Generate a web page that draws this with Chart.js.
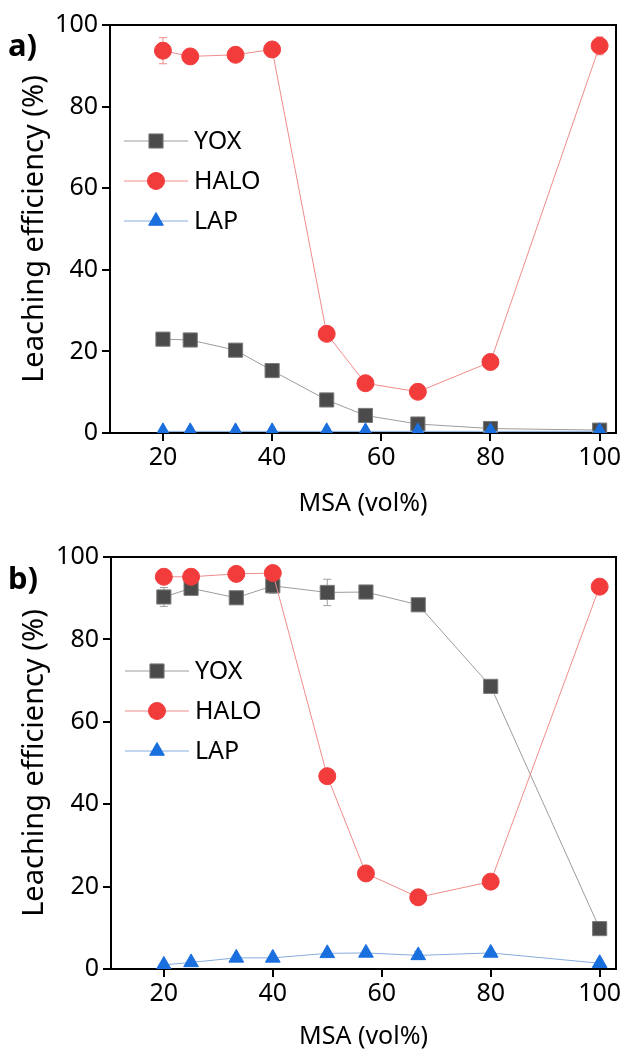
<!DOCTYPE html>
<html><head><meta charset="utf-8">
<script src="https://cdn.jsdelivr.net/npm/chart.js@4.4.1/dist/chart.umd.min.js"></script>
<style>
html,body{margin:0;padding:0;background:#fff;}
canvas{display:block;}
</style></head><body>
<canvas id="ca" width="627" height="527"></canvas>
<canvas id="cb" width="627" height="527"></canvas>
<script>
// ---- data ----
const msa = [20, 25, 33.3, 40, 50, 57.1, 66.7, 80, 100];
const xTicks = [20, 40, 60, 80, 100];
const yTicks = [0, 20, 40, 60, 80, 100];
const seriesNames = ['YOX', 'HALO', 'LAP'];
const panelLabels = ['a)', 'b)'];
const xTitle = 'MSA (vol%)';
const yTitle = 'Leaching efficiency (%)';

const yoxA  = [23.0, 22.8, 20.3, 15.3, 8.1, 4.3, 2.2, 1.1, 0.7];
const haloA = [93.7, 92.3, 92.7, 94.0, 24.3, 12.2, 10.1, 17.4, 94.9];
const lapA  = [0.4, 0.4, 0.4, 0.4, 0.4, 0.4, 0.4, 0.4, 0.4];
const yoxErrA  = [0, 0, 0, 0, 0, 0, 0, 0, 0];
const haloErrA = [3.2, 0, 0, 0, 0, 0, 0, 0, 2.2];
const lapErrA  = [0, 0, 0, 0, 0, 0, 0, 0, 0];

const yoxB  = [90.3, 92.4, 90.1, 93.0, 91.4, 91.5, 88.4, 68.6, 9.8];
const haloB = [95.2, 95.2, 95.9, 96.1, 46.8, 23.2, 17.4, 21.2, 92.8];
const lapB  = [1.0, 1.6, 2.7, 2.7, 3.8, 3.9, 3.3, 3.9, 1.4];
const yoxErrB  = [2.3, 0, 0, 1.8, 3.2, 0, 0, 0, 0];
const haloErrB = [0, 0, 1.5, 0, 0, 0, 0, 0, 0];
const lapErrB  = [0, 0, 0, 0, 0, 0, 1.0, 0, 0];

// ---- styling ----
const FONT = "'Noto Sans', 'Open Sans', sans-serif";
const styles = [
  {line: '#9c9c9c', fill: '#4b4b4b', border: '#7a7a7a', pointStyle: 'rect', radius: 10, err: '#a0a0a0'},
  {line: '#f08c8c', fill: '#f23c3c', border: '#f23c3c', pointStyle: 'circle', radius: 8.5, err: '#f08c8c'},
  {line: '#86acde', fill: '#1a6fde', border: '#1a6fde', pointStyle: 'triangle', radius: 8.5, err: '#86acde'}
];

const boxPlugin = {
  id: 'box',
  beforeDatasetsDraw(chart, args, opts) {
    const {ctx, chartArea: a, scales} = chart;
    ctx.save();
    ctx.strokeStyle = '#000';
    ctx.lineWidth = 2;
    ctx.beginPath();
    ctx.moveTo(a.left, a.top); ctx.lineTo(a.right, a.top); ctx.lineTo(a.right, a.bottom);
    ctx.stroke();
    const xs = scales.x, ys = scales.y;
    chart.data.datasets.forEach((ds, di) => {
      const errs = ds.errs || [];
      ctx.strokeStyle = styles[di].err;
      ctx.lineWidth = 1;
      errs.forEach((e, i) => {
        if (!e) return;
        const x = xs.getPixelForValue(msa[i]);
        const y1 = ys.getPixelForValue(ds.data[i].y + e);
        const y2 = ys.getPixelForValue(Math.max(0, ds.data[i].y - e));
        ctx.beginPath();
        ctx.moveTo(x, y1); ctx.lineTo(x, y2);
        ctx.moveTo(x - 4, y1); ctx.lineTo(x + 4, y1);
        ctx.moveTo(x - 4, y2); ctx.lineTo(x + 4, y2);
        ctx.stroke();
      });
    });
    ctx.restore();
  },
  afterDraw(chart, args, opts) {
    const {ctx, chartArea: a} = chart;
    ctx.save();
    ctx.fillStyle = '#000';
    ctx.font = "bold 31px " + FONT;
    ctx.textBaseline = 'middle';
    ctx.textAlign = 'left';
    ctx.fillText(opts.label, 8, opts.labelY);
    ctx.font = "25px " + FONT;
    chart.data.datasets.forEach((ds, di) => {
      const st = styles[di];
      const y = opts.legY + di * opts.legGap;
      const x0 = a.left + 14, x1 = a.left + 78, xm = a.left + 46;
      ctx.strokeStyle = st.line; ctx.lineWidth = 1;
      ctx.beginPath(); ctx.moveTo(x0, y); ctx.lineTo(x1, y); ctx.stroke();
      ctx.fillStyle = st.fill; ctx.strokeStyle = st.border; ctx.lineWidth = 1;
      Chart.helpers.drawPoint(ctx, {pointStyle: st.pointStyle, radius: st.radius, borderWidth: 1, rotation: 0}, xm, y);
      ctx.fillStyle = '#000';
      ctx.fillText(ds.label, a.left + 84, y + 1);
    });
    ctx.restore();
  }
};

function makeChart(id, yox, halo, lap, errs, L) {
  const series = [yox, halo, lap];
  const datasets = series.map((vals, k) => ({
    label: seriesNames[k],
    data: vals.map((v, i) => ({x: msa[i], y: v})),
    errs: errs[k],
    borderColor: styles[k].line,
    borderWidth: 1,
    backgroundColor: styles[k].fill,
    pointBackgroundColor: styles[k].fill,
    pointBorderColor: styles[k].border,
    pointBorderWidth: 1,
    pointStyle: styles[k].pointStyle,
    pointRadius: styles[k].radius,
    pointHoverRadius: styles[k].radius,
    tension: 0,
    order: [2, 1, 0][k]
  }));
  return new Chart(document.getElementById(id), {
    type: 'line',
    data: {datasets},
    plugins: [boxPlugin],
    options: {
      responsive: false,
      animation: false,
      devicePixelRatio: 1,
      layout: {padding: {top: L.top, right: L.right, left: 0, bottom: 0}},
      plugins: {
        legend: {display: false},
        tooltip: {enabled: false},
        box: {label: L.label, labelY: L.labelY, legY: L.legY, legGap: L.legGap}
      },
      scales: {
        x: {
          type: 'linear', min: 10.3, max: 103,
          afterBuildTicks(s) { s.ticks = xTicks.map(v => ({value: v})); },
          afterFit(s) { s.height = L.xHeight; },
          grid: {drawOnChartArea: false, drawTicks: true, tickLength: 8, color: '#000', lineWidth: 2},
          border: {color: '#000', width: 2},
          ticks: {color: '#000', font: {family: FONT, size: 25}, padding: 2, maxRotation: 0},
          title: {display: true, text: xTitle, color: '#000', font: {family: FONT, size: 25}, padding: {top: 0, bottom: L.xTitlePad}}
        },
        y: {
          type: 'linear', min: 0, max: 100,
          afterBuildTicks(s) { s.ticks = yTicks.map(v => ({value: v})); },
          afterFit(s) { s.width = L.yWidth; },
          grid: {drawOnChartArea: false, drawTicks: true, tickLength: 8, color: '#000', lineWidth: 2},
          border: {color: '#000', width: 2},
          ticks: {color: '#000', font: {family: FONT, size: 25}, padding: 4},
          title: {display: true, text: yTitle, color: '#000', font: {family: FONT, size: 29}, padding: {top: 17, bottom: 0}}
        }
      }
    }
  });
}

makeChart('ca', yoxA, haloA, lapA, [yoxErrA, haloErrA, lapErrA],
  {top: 25, right: 11, yWidth: 110, xHeight: 94, xTitlePad: 8, label: panelLabels[0], labelY: 47, legY: 141, legGap: 40});
makeChart('cb', yoxB, haloB, lapB, [yoxErrB, haloErrB, lapErrB],
  {top: 30, right: 10, yWidth: 111, xHeight: 85, xTitlePad: 2, label: panelLabels[1], labelY: 53, legY: 144, legGap: 40});
</script>
</body></html>
